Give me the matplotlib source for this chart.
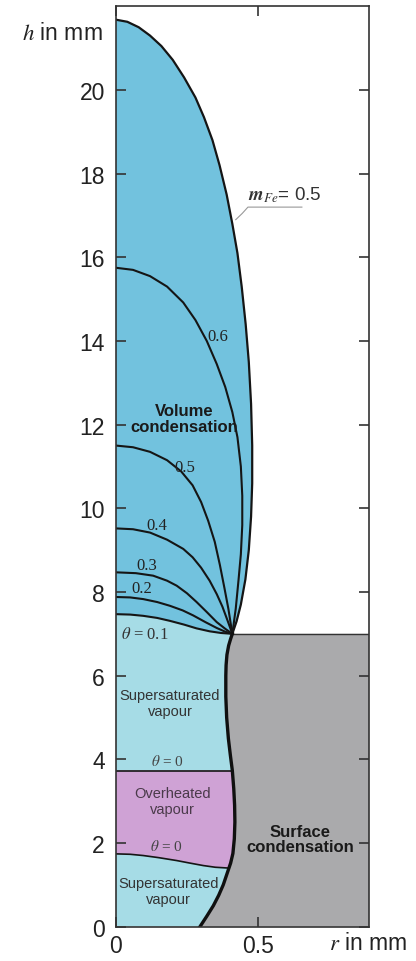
import numpy as np
import matplotlib
matplotlib.use("Agg")
import matplotlib.pyplot as plt

plt.rcParams['font.family'] = ['Liberation Sans', 'DejaVu Sans']
plt.rcParams['mathtext.fontset'] = 'stix'

# outer boundary m_Fe = 0.5 (r in mm, h in mm), top -> junction
outer_r = [0, 0.04, 0.08, 0.12, 0.16, 0.2, 0.24, 0.28, 0.31, 0.34, 0.365, 0.39, 0.41, 0.428,
           0.443, 0.457, 0.468, 0.476, 0.48, 0.48, 0.476, 0.468, 0.456, 0.44, 0.425, 0.41]
outer_h = [21.68, 21.63, 21.5, 21.3, 21.05, 20.72, 20.3, 19.82, 19.35, 18.8, 18.2, 17.5, 16.8, 16.1,
           15.3, 14.4, 13.5, 12.5, 11.5, 10.6, 9.8, 9.0, 8.3, 7.7, 7.3, 7.0]

# theta isolines, axis -> junction
th06_r = [0, 0.06, 0.12, 0.18, 0.237, 0.28, 0.32, 0.355, 0.385, 0.41, 0.428, 0.44, 0.445, 0.445,
          0.44, 0.432, 0.422, 0.41]
th06_h = [15.75, 15.7, 15.55, 15.3, 14.92, 14.5, 14.0, 13.45, 12.9, 12.3, 11.7, 11.0, 10.3, 9.6,
          8.9, 8.3, 7.6, 7.0]
th05_r = [0, 0.06, 0.12, 0.18, 0.23, 0.27, 0.30, 0.325, 0.348, 0.366, 0.382, 0.396, 0.41]
th05_h = [11.5, 11.46, 11.35, 11.15, 10.88, 10.55, 10.15, 9.7, 9.2, 8.65, 8.1, 7.6, 7.0]
th04_r = [0, 0.06, 0.12, 0.18, 0.237, 0.27, 0.30, 0.33, 0.355, 0.375, 0.393, 0.41]
th04_h = [9.52, 9.5, 9.42, 9.25, 9.03, 8.83, 8.58, 8.27, 7.95, 7.65, 7.32, 7.0]
th03_r = [0, 0.07, 0.131, 0.18, 0.214, 0.25, 0.284, 0.32, 0.355, 0.385, 0.41]
th03_h = [8.47, 8.45, 8.39, 8.27, 8.15, 7.97, 7.76, 7.52, 7.28, 7.12, 7.0]
th02_r = [0, 0.05, 0.096, 0.145, 0.19, 0.235, 0.272, 0.315, 0.355, 0.385, 0.41]
th02_h = [7.88, 7.87, 7.83, 7.76, 7.67, 7.56, 7.44, 7.28, 7.14, 7.05, 7.0]
th01_r = [0, 0.05, 0.096, 0.145, 0.19, 0.24, 0.284, 0.33, 0.37, 0.41]
th01_h = [7.47, 7.46, 7.43, 7.38, 7.31, 7.22, 7.13, 7.06, 7.02, 7.0]

# surface condensation boundary, junction -> wall
wall_r = [0.41, 0.404, 0.397, 0.391, 0.388, 0.387, 0.387, 0.39, 0.396, 0.403, 0.41, 0.415, 0.418,
          0.419, 0.417, 0.412, 0.404, 0.398, 0.388, 0.378, 0.362, 0.343, 0.32, 0.296]
wall_h = [7.0, 6.88, 6.72, 6.5, 6.25, 6.0, 5.5, 5.0, 4.5, 4.1, 3.73, 3.3, 2.9,
          2.5, 2.1, 1.75, 1.52, 1.40, 1.2, 1.0, 0.75, 0.5, 0.25, 0.0]

# theta = 0 boundaries
upper0_r = [0, 0.41]
upper0_h = [3.73, 3.73]
lower0_r = [0, 0.05, 0.096, 0.15, 0.214, 0.26, 0.308, 0.35, 0.398]
lower0_h = [1.74, 1.73, 1.70, 1.65, 1.58, 1.52, 1.46, 1.42, 1.40]

r_max = 0.893
h_max = 22

c_blue = '#72c2de'
c_cyan = '#a6dce6'
c_purple = '#cfa2d5'
c_gray = '#aaaaac'

fig = plt.figure(figsize=(4.16, 9.62), dpi=100)
ax = fig.add_axes([0.2788, 0.0357, 0.6092, 0.9567])

wr = np.array(wall_r)
wh = np.array(wall_h)
top = wh >= 3.73
mid = (wh <= 3.73) & (wh >= 1.40)
bot = wh <= 1.40

# volume condensation
ax.fill(np.concatenate([outer_r, th01_r[::-1]]), np.concatenate([outer_h, th01_h[::-1]]),
        color=c_blue, lw=0)
# supersaturated (upper)
ax.fill(np.concatenate([th01_r, wr[top], upper0_r[::-1]]),
        np.concatenate([th01_h, wh[top], upper0_h[::-1]]), color=c_cyan, lw=0)
# overheated
ax.fill(np.concatenate([upper0_r, wr[mid], lower0_r[::-1]]),
        np.concatenate([upper0_h, wh[mid], lower0_h[::-1]]), color=c_purple, lw=0)
# supersaturated (lower)
ax.fill(np.concatenate([lower0_r, wr[bot], [0]]),
        np.concatenate([lower0_h, wh[bot], [0]]), color=c_cyan, lw=0)
# surface condensation
ax.fill(np.concatenate([wall_r, [r_max, r_max]]), np.concatenate([wall_h, [0, 7.0]]),
        color=c_gray, lw=0)
ax.plot([wall_r[0], r_max], [7.0, 7.0], color='#333333', lw=1.0)

for rr, hh in [(th06_r, th06_h), (th05_r, th05_h), (th04_r, th04_h),
               (th03_r, th03_h), (th02_r, th02_h), (th01_r, th01_h)]:
    ax.plot(rr, hh, color='#151515', lw=1.5, solid_joinstyle='round')
ax.plot(outer_r, outer_h, color='#151515', lw=1.6, solid_joinstyle='round')
ax.plot(upper0_r, upper0_h, color='#151515', lw=1.2)
ax.plot(lower0_r, lower0_h, color='#151515', lw=1.2, solid_joinstyle='round')
ax.plot(wall_r, wall_h, color='#101010', lw=2.4, solid_joinstyle='round')

ax.set_xlim(0, r_max)
ax.set_ylim(0, h_max)
ax.set_xticks([0, 0.5])
ax.set_xticklabels(['0', '0.5'])
ax.set_yticks(range(0, 21, 2))
ax.tick_params(direction='in', length=7, width=1.2, color='#333333', labelsize=16.5,
               labelcolor='#222222', top=True, right=True)
ax.tick_params(axis='y', pad=8)
ax.tick_params(axis='x', pad=5)
for s in ax.spines.values():
    s.set_color('#333333')
    s.set_linewidth(1.2)

# axis titles
fig.text(103 / 416, 1 - 33 / 962, r'$h$ in mm', ha='right', va='center', fontsize=16.5, color='#222222')
fig.text(329 / 416, 1 - 944 / 962, r'$r$ in mm', ha='left', va='center', fontsize=16.5, color='#222222')

# annotations
ax.plot([0.422, 0.445, 0.465, 0.655], [16.9, 17.05, 17.2, 17.2], color='#999999', lw=0.8)
ax.text(0.465, 17.5, r'$\mathbfit{m}_{\mathit{Fe}}$= 0.5', fontsize=13.5, color='#333333',
        ha='left', va='center')

serif = ['Liberation Serif', 'DejaVu Serif']
ax.text(0.36, 14.12, '0.6', fontsize=12, family=serif, color='#222222', ha='center', va='center')
ax.text(0.243, 10.98, '0.5', fontsize=12, family=serif, color='#222222', ha='center', va='center')
ax.text(0.145, 9.6, '0.4', fontsize=12, family=serif, color='#222222', ha='center', va='center')
ax.text(0.11, 8.65, '0.3', fontsize=12, family=serif, color='#222222', ha='center', va='center')
ax.text(0.092, 8.1, '0.2', fontsize=12, family=serif, color='#222222', ha='center', va='center')
ax.text(0.102, 6.99, r'$\theta$ = 0.1', fontsize=12, family=serif, color='#333333',
        ha='center', va='center')
ax.text(0.18, 3.97, r'$\theta$ = 0', fontsize=11, family=serif, color='#444444',
        ha='center', va='center')
ax.text(0.177, 1.94, r'$\theta$ = 0', fontsize=11, family=serif, color='#444444',
        ha='center', va='center')

ax.text(0.24, 12.15, 'Volume\ncondensation', fontsize=12, fontweight='bold', color='#1a1a1a',
        ha='center', va='center', linespacing=1.05)
ax.text(0.19, 5.35, 'Supersaturated\nvapour', fontsize=10.5, color='#333333',
        ha='center', va='center', linespacing=1.15)
ax.text(0.2, 3.0, 'Overheated\nvapour', fontsize=10.5, color='#4a3a4a',
        ha='center', va='center', linespacing=1.15)
ax.text(0.185, 0.85, 'Supersaturated\nvapour', fontsize=10.5, color='#333333',
        ha='center', va='center', linespacing=1.15)
ax.text(0.65, 2.1, 'Surface\ncondensation', fontsize=12, fontweight='bold', color='#1a1a1a',
        ha='center', va='center', linespacing=1.05)

fig.savefig('out.png', dpi=100, facecolor='white')
